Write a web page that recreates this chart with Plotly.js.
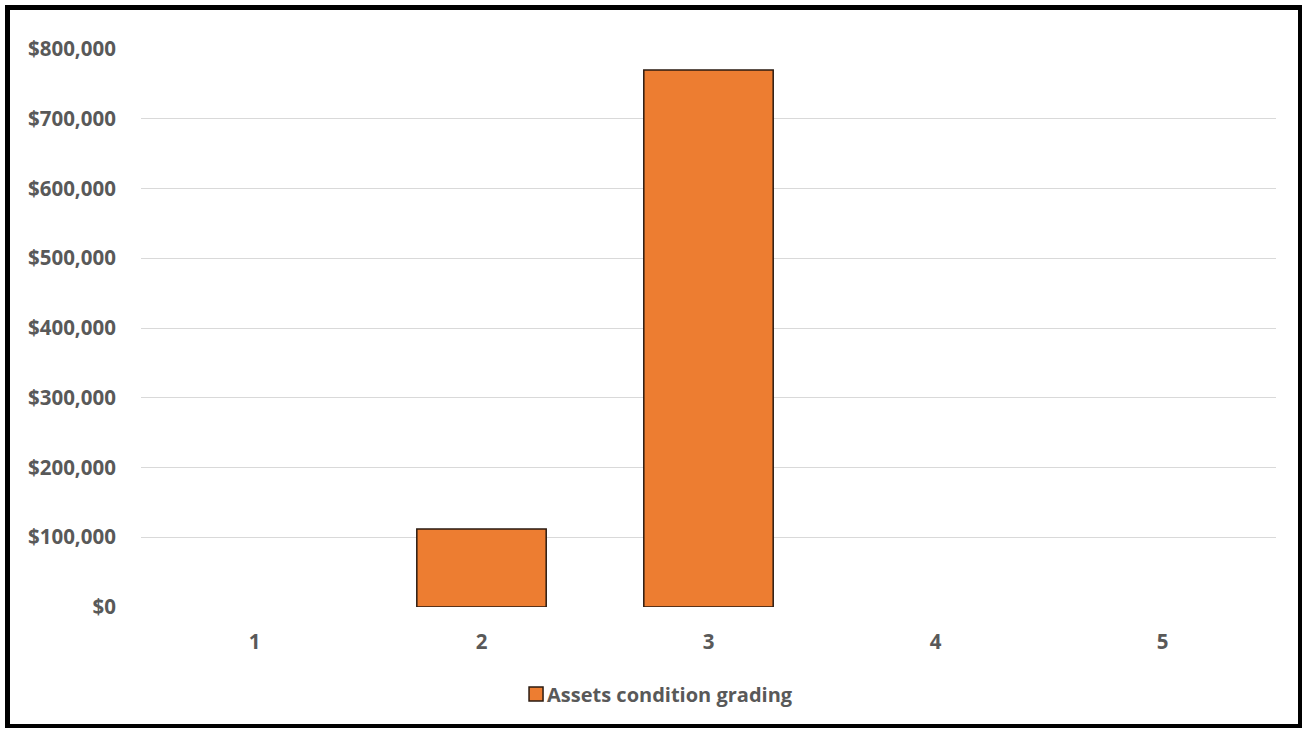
<!DOCTYPE html>
<html>
<head>
<meta charset="utf-8">
<script src="https://cdn.plot.ly/plotly-3.0.1.min.js"></script>
<style>
  html, body { margin: 0; padding: 0; background: #fff; }
  #chart { position: absolute; left: 0; top: 0; width: 1307px; height: 732px; }
  #frame {
    position: absolute; left: 5px; top: 5px; width: 1297px; height: 723px;
    border-left: 5px solid #000; border-top: 5px solid #000;
    border-right: 4px solid #000; border-bottom: 4px solid #000;
    box-sizing: border-box; pointer-events: none;
  }
</style>
</head>
<body>
<div id="chart"></div>
<div id="frame"></div>
<script>
// Condition grades and the asset value in each grade
const grades = ['1', '2', '3', '4', '5'];
const assetValues = [0, 112000, 770000, 0, 0];
const seriesName = 'Assets condition grading';
const yTickValues = [0, 100000, 200000, 300000, 400000, 500000, 600000, 700000, 800000];
const yTickLabels = ['$0', '$100,000', '$200,000', '$300,000', '$400,000', '$500,000', '$600,000', '$700,000', '$800,000'];

const tickFont = { family: 'Open Sans, Lato, sans-serif', size: 20.5, color: '#595959', weight: 700 };
const legendFont = { family: 'Open Sans, Lato, sans-serif', size: 20, color: '#595959', weight: 700 };
const barColor = '#ED7D31';
const outlineColor = '#2a1a10';

// empty grades get no outline so nothing is drawn on the baseline
const outlineWidths = assetValues.map(v => (v > 0 ? 1.5 : 0));

const trace = {
  type: 'bar',
  x: grades,
  y: assetValues,
  name: seriesName,
  showlegend: true,
  marker: { color: barColor, line: { color: outlineColor, width: outlineWidths } },
  hoverinfo: 'x+y'
};

const layout = {
  width: 1307,
  height: 732,
  margin: { l: 141, r: 31, t: 49, b: 125 },
  paper_bgcolor: '#ffffff',
  plot_bgcolor: '#ffffff',
  bargap: 0.43,
  xaxis: {
    type: 'category',
    showgrid: false,
    zeroline: false,
    showline: false,
    ticks: 'outside',
    ticklen: 16,
    tickcolor: 'rgba(0,0,0,0)',
    tickfont: tickFont
  },
  yaxis: {
    range: [0, 800000],
    tickvals: yTickValues,
    ticktext: yTickLabels,
    showgrid: true,
    gridcolor: '#d9d9d9',
    gridwidth: 1,
    zeroline: false,
    showline: false,
    ticks: 'outside',
    ticklen: 20,
    tickcolor: 'rgba(0,0,0,0)',
    tickfont: tickFont
  },
  showlegend: true,
  legend: {
    orientation: 'h',
    x: 0.3225,
    xanchor: 'left',
    y: -0.156,
    yanchor: 'middle',
    font: legendFont,
    itemwidth: 30
  }
};

Plotly.newPlot('chart', [trace], layout, { displayModeBar: false, staticPlot: true }).then(gd => {
  // legend swatch: bordered square sitting close to its label
  gd.querySelectorAll('.legend .legendpoints').forEach(g => {
    g.setAttribute('transform', 'translate(9,0)');
    g.querySelectorAll('path').forEach(p => {
      p.setAttribute('d', 'M-7,-7H7V7H-7Z');
      p.style.stroke = outlineColor;
      p.style.strokeWidth = '1.5px';
      p.style.fill = barColor;
    });
  });
});
</script>
</body>
</html>
